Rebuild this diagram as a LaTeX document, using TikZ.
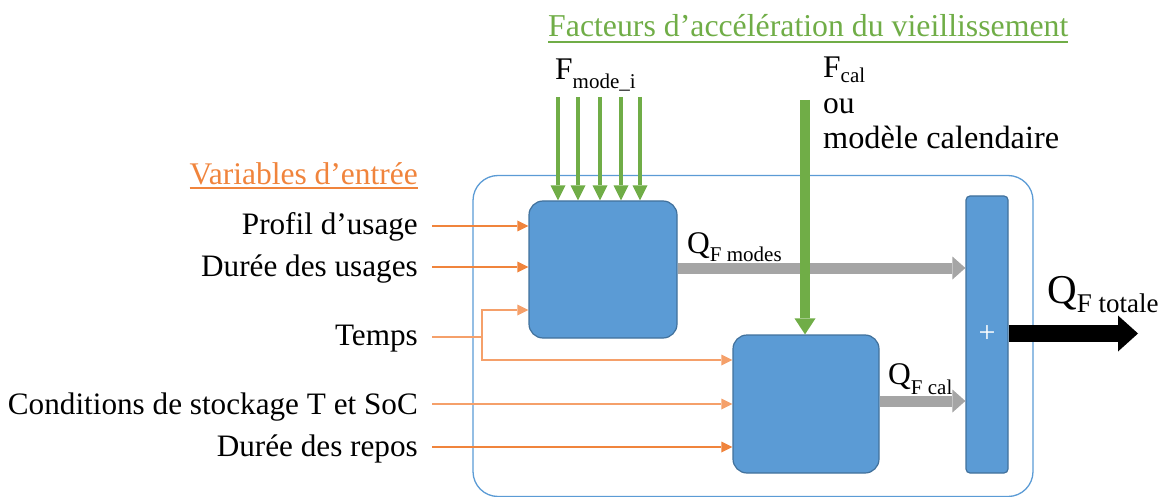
\documentclass[tikz,border=0pt]{standalone}
\usepackage{fontspec}
\setmainfont{Liberation Serif}
\usetikzlibrary{arrows.meta}
\definecolor{cgreen}{HTML}{70AD47}
\definecolor{corange}{HTML}{F0843C}
\definecolor{corangel}{HTML}{F5A06A}
\definecolor{cblue}{HTML}{5B9BD5}
\definecolor{cblueb}{HTML}{41719C}
\definecolor{cgray}{HTML}{A5A5A5}
\newcommand\mysub[2]{\raisebox{-#1}{\fontsize{21}{21}\selectfont #2}}
\newcommand\myul[3]{\setbox0\hbox{#3}\rlap{\color{#1}\rule[-#2]{\wd0}{1.6pt}}\box0}
\tikzset{
  lbl/.style={anchor=base east, inner sep=0pt, font=\fontsize{31.2}{36}\selectfont},
  txt/.style={anchor=base west, inner sep=0pt, font=\fontsize{31.5}{36}\selectfont},
  blk/.style={draw=cblueb, fill=cblue, line width=1.2pt, inner sep=0pt},
  oarr/.style={draw=corange, line width=1.5pt, -{Triangle[length=11pt,width=11pt,line width=0pt]}},
  oarrl/.style={oarr, draw=corangel},
  oline/.style={draw=corangel, line width=1.5pt},
  garr/.style={draw=cgreen, line width=4pt, -{Triangle[length=15pt,width=15pt,line width=0pt]}},
  gbig/.style={draw=cgreen, line width=10pt, -{Triangle[length=16pt,width=21pt,line width=0pt]}},
  grayarr/.style={draw=cgray, line width=11pt, -{Triangle[length=13pt,width=23pt,line width=0pt]}},
  barr/.style={draw=black, line width=17pt, -{Triangle[length=20pt,width=36pt,line width=0pt]}},
}
\begin{document}
\begin{tikzpicture}[x=1pt,y=-1pt]
\useasboundingbox (0,0) rectangle (1167,497);
% outer frame
\node[draw=cblue, line width=1.3pt, rounded corners=25pt, minimum width=560pt, minimum height=321pt, inner sep=0pt] (frame) at (753,336) {};
% blocks
\node[blk, rounded corners=14pt, minimum width=148pt, minimum height=137pt] (box1) at (603,269.5) {};
\node[blk, rounded corners=14pt, minimum width=146pt, minimum height=138pt] (box2) at (806,404) {};
\node[blk, rounded corners=4pt, minimum width=42pt, minimum height=277pt, text=white, font=\fontsize{30}{30}\selectfont] (sum) at (987,334.5) {+};
% titles
\node[txt, text=cgreen, font=\fontsize{31.8}{36}\selectfont] (t1) at (548,37) {\myul{cgreen}{6pt}{Facteurs d’accélération du vieillissement}};
\node[lbl, text=corange, font=\fontsize{31.5}{36}\selectfont] (t2) at (418,185) {\myul{corange}{4pt}{Variables d’entrée}};
% top labels
\node[txt] (fmode) at (555,80) {F\mysub{9pt}{mode\_i}};
\node[txt] (fcal) at (823,78) {F\mysub{5pt}{cal}};
\node[txt] (ou) at (823,114) {ou};
\node[txt, font=\fontsize{32.3}{36}\selectfont] (mcal) at (823,149) {modèle calendaire};
% left labels
\node[lbl] (l1) at (418,235) {Profil d’usage};
\node[lbl] (l2) at (418,276) {Durée des usages};
\node[lbl] (l3) at (418,345) {Temps};
\node[lbl] (l4) at (418,414) {Conditions de stockage T et SoC};
\node[lbl] (l5) at (418,456) {Durée des repos};
% orange connectors
\coordinate (s1) at (432,226);
\coordinate (s2) at (432,267);
\coordinate (s3) at (432,337);
\coordinate (s4) at (432,404);
\coordinate (s5) at (432,447);
\coordinate (j) at (482,337);
\coordinate (ju) at (482,310);
\coordinate (jd) at (482,360);
\draw[oarr] (s1) -- (box1.west |- s1);
\draw[oarr] (s2) -- (box1.west |- s2);
\draw[oline] (s3) -- (j);
\draw[oarrl] (j) -- (ju) -- (box1.west |- ju);
\draw[oarrl] (j) -- (jd) -- (box2.west |- jd);
\draw[oarrl] (s4) -- (box2.west |- s4);
\draw[oarr] (s5) -- (box2.west |- s5);
% gray connectors
\coordinate (qm) at (677,268);
\coordinate (qc) at (879,401);
\draw[grayarr] (box1.east |- qm) -- (sum.west |- qm);
\draw[grayarr] (box2.east |- qc) -- (sum.west |- qc);
\node[txt] (qmodes) at (687,253) {Q\mysub{8pt}{F modes}};
\node[txt] (qcal) at (888,384) {Q\mysub{10pt}{F cal}};
% green connectors
\foreach \i/\x in {1/558,2/578,3/600,4/621,5/640}{
  \coordinate (m\i) at (\x,97);
  \draw[garr] (m\i) -- (m\i |- box1.north);
}
\coordinate (c0) at (805,100);
\draw[gbig] (c0) -- (c0 |- box2.north);
% output
\coordinate (out) at (1138,333.5);
\draw[barr] (sum.east |- out) -- (out);
\node[txt, font=\fontsize{41}{44}\selectfont] (qtot) at (1047,303) {Q\raisebox{-9pt}{\fontsize{27}{27}\selectfont F totale}};
\end{tikzpicture}
\end{document}
